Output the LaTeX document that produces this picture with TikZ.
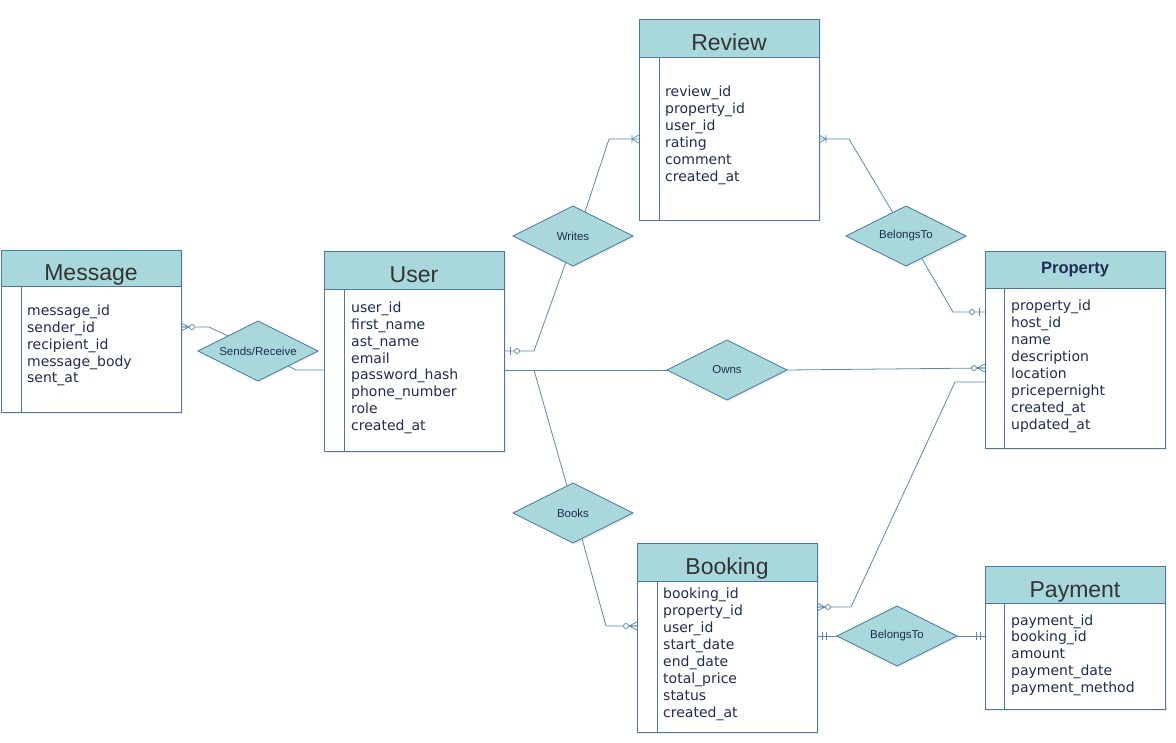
\documentclass[tikz,border=0pt]{standalone}
\usepackage{fontspec}
\setmainfont{DejaVu Sans}
\newfontfamily\titlefont{Liberation Sans}
\usetikzlibrary{shapes.geometric,shadows,calc}

\definecolor{hdrc}{HTML}{A8D8DC}
\definecolor{boxc}{HTML}{4A78A0}
\definecolor{linec}{HTML}{5A8AB2}
\definecolor{fieldc}{HTML}{1E2D4F}
\definecolor{titlec}{HTML}{333333}

\tikzset{
  ent/.style={draw=boxc, fill=white, line width=0.8pt, rectangle,
    minimum width=180, inner sep=0, outer sep=0, anchor=north west,
    drop shadow={opacity=0.15, shadow xshift=1.5pt, shadow yshift=-1.5pt}},
  hdr/.style={draw=boxc, fill=hdrc, line width=0.8pt, minimum width=180,
    minimum height=37, inner sep=0, outer sep=0, anchor=north west,
    text=titlec, font=\titlefont\fontsize{23}{26}\selectfont,
    text height=25pt, text depth=0pt},
  field/.style={anchor=base west, inner sep=0, text=fieldc,
    font=\fontsize{14}{17}\selectfont},
  rel/.style={diamond, aspect=2, draw=boxc, fill=hdrc, line width=0.8pt,
    minimum width=120, minimum height=60, inner sep=0, outer sep=0,
    text=fieldc, font=\titlefont\fontsize{11.5}{14}\selectfont,
    drop shadow={opacity=0.15, shadow xshift=1.5pt, shadow yshift=-1.5pt}},
  link/.style={draw=linec, line width=0.8pt},
  sep/.style={draw=boxc, line width=0.8pt},
  zmany/.pic={\draw[link] (-8,0) -- (0,-4) (-8,0) -- (0,4) (-8,0) -- (0,0);
    \draw[link, fill=white] (-11,0) circle (2.5pt);},
  omany/.pic={\draw[link] (-7,0) -- (0,-4) (-7,0) -- (0,4) (-7,-4) -- (-7,4);},
  zone/.pic={\draw[link] (-6,-4) -- (-6,4);
    \draw[link, fill=white] (-13,0) circle (2.5pt);},
  mone/.pic={\draw[link] (-5,-4) -- (-5,4) (-9,-4) -- (-9,4);}
}

\begin{document}
\begin{tikzpicture}[x=1pt, y=-1pt]
  \useasboundingbox[fill=white] (0,0) rectangle (1176,743);

  % entities
  \node[ent, minimum height=162] (msg) at (1,250) {};
  \node[hdr, minimum height=36] (msg-h) at (msg.north west) {Message};
  \draw[sep] ([xshift=20pt]msg-h.south west) -- ([xshift=20pt]msg.south west);
  \foreach \f [count=\i] in {message\_id, sender\_id, recipient\_id,
    message\_body, sent\_at}
    \node[field] (msg-\i) at (27, 299.25+16.75*\i) {\f};

  \node[ent, minimum height=200] (usr) at (324,251) {};
  \node[hdr, minimum height=38] (usr-h) at (usr.north west) {User};
  \draw[sep] ([xshift=20pt]usr-h.south west) -- ([xshift=20pt]usr.south west);
  \foreach \f [count=\i] in {user\_id, first\_name, ast\_name, email,
    password\_hash, phone\_number, role, created\_at}
    \node[field] (usr-\i) at (351, 296.25+16.75*\i) {\f};

  \node[ent, minimum height=201] (rev) at (639,19) {};
  \node[hdr, minimum height=38] (rev-h) at (rev.north west) {Review};
  \draw[sep] ([xshift=20pt]rev-h.south west) -- ([xshift=20pt]rev.south west);
  \foreach \f [count=\i] in {review\_id, property\_id, user\_id, rating,
    comment, created\_at}
    \node[field] (rev-\i) at (665, 80+17*\i) {\f};

  \node[ent, minimum height=197] (prop) at (985,251) {};
  \node[hdr, font=\titlefont\bfseries\fontsize{16.5}{20}\selectfont,
    text=fieldc, text height=9pt] (prop-h) at (prop.north west) {Property};
  \draw[sep] ([xshift=19pt]prop-h.south west) -- ([xshift=19pt]prop.south west);
  \foreach \f [count=\i] in {property\_id, host\_id, name, description,
    location, pricepernight, created\_at, updated\_at}
    \node[field] (prop-\i) at (1011, 294.14+16.86*\i) {\f};

  \node[ent, minimum height=189] (book) at (637,543) {};
  \node[hdr, minimum height=38] (book-h) at (book.north west) {Booking};
  \draw[sep] ([xshift=20pt]book-h.south west) -- ([xshift=20pt]book.south west);
  \foreach \f [count=\i] in {booking\_id, property\_id, user\_id, start\_date,
    end\_date, total\_price, status, created\_at}
    \node[field] (book-\i) at (663, 581+17*\i) {\f};

  \node[ent, minimum height=143] (pay) at (985,566) {};
  \node[hdr] (pay-h) at (pay.north west) {Payment};
  \draw[sep] ([xshift=19pt]pay-h.south west) -- ([xshift=19pt]pay.south west);
  \foreach \f [count=\i] in {payment\_id, booking\_id, amount, payment\_date,
    payment\_method}
    \node[field] (pay-\i) at (1011, 608.25+16.75*\i) {\f};

  % relationships
  \node[rel] (sends) at (258,351) {Sends/Receive};
  \node[rel] (writes) at (573,236) {Writes};
  \node[rel] (belong1) at (906,236) {BelongsTo};
  \node[rel] (owns) at (727,370) {Owns};
  \node[rel] (books) at (573,513) {Books};
  \node[rel] (belong2) at (897,636) {BelongsTo};

  \coordinate (fork) at (534,370);

  \draw[link] (sends.north west) -- (209,327) -- (msg.east |- 0,327);
  \draw[link] (sends.south east) -- (296,370) -- (usr.west |- 0,370);

  \draw[link] ($(writes.south)!.12!(writes.west)$) -- (534,351) -- (usr.east |- 0,351);
  \draw[link] ($(writes.north)!.2!(writes.east)$) -- (609,139) -- (rev.west |- 0,139);

  \draw[link] ($(belong1.north)!.22!(belong1.west)$) -- (849,139) -- (rev.east |- 0,139);
  \draw[link] ($(belong1.south)!.26!(belong1.east)$) -- (953,312) -- (prop.west |- 0,312);

  \draw[link] (owns.west) -- (usr.east |- owns.west);
  \draw[link] (owns.east) -- (prop.west |- 0,368);

  \draw[link] ($(books.north)!.1!(books.west)$) -- (fork);
  \draw[link] ($(books.south)!.15!(books.east)$) -- (606,626) -- (book.west |- 0,626);

  \draw[link] (prop.west |- 0,382) -- (955,382) -- (851,607) -- (book.east |- 0,607);

  \draw[link] (belong2.west) -- (book.east |- belong2.west);
  \draw[link] (belong2.east) -- (pay.west |- belong2.east);

  % ends
  \pic[xscale=-1] at (msg.east |- 0,327) {zmany};
  \pic[xscale=-1] at (usr.east |- 0,351) {zone};
  \pic at (rev.west |- 0,139) {omany};
  \pic[xscale=-1] at (rev.east |- 0,139) {omany};
  \pic at (prop.west |- 0,312) {zone};
  \pic at (prop.west |- 0,368) {zmany};
  \pic at (book.west |- 0,626) {zmany};
  \pic[xscale=-1] at (book.east |- 0,607) {zmany};
  \pic[xscale=-1] at (book.east |- belong2.west) {mone};
  \pic at (pay.west |- belong2.east) {mone};

\end{tikzpicture}
\end{document}
